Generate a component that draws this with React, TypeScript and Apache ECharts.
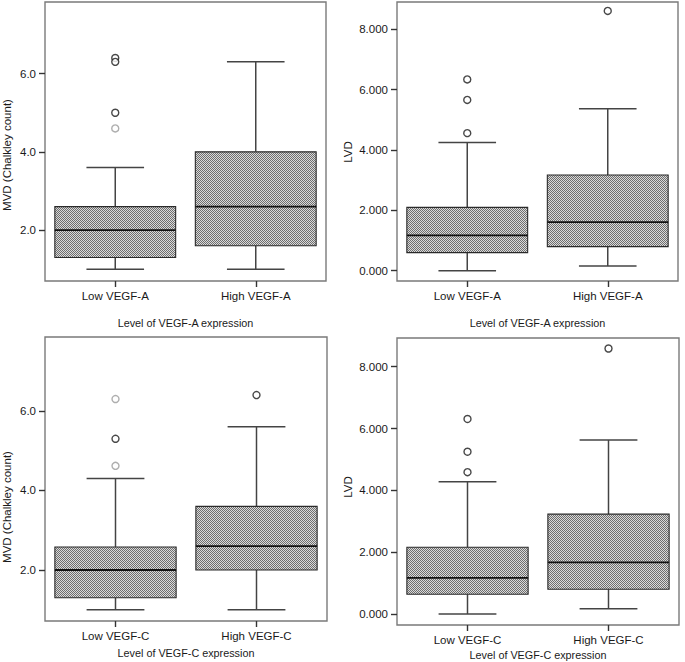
import React, { useEffect, useRef } from 'react';
import * as echarts from 'echarts';

// ---- Data ----
const vegfACategories = ['Low VEGF-A', 'High VEGF-A'];
const vegfCCategories = ['Low VEGF-C', 'High VEGF-C'];

// Each box: [lower whisker, Q1, median, Q3, upper whisker]
const mvdVegfABoxes = [
  [1.0, 1.3, 2.0, 2.6, 3.6],
  [1.0, 1.6, 2.6, 4.0, 6.3],
];
const mvdVegfAOutliers = [[0, 6.4], [0, 6.3], [0, 5.0], [0, 4.6]];
const mvdVegfAOutlierGray = [false, false, false, true];

const lvdVegfABoxes = [
  [0.0, 0.6, 1.17, 2.1, 4.25],
  [0.16, 0.8, 1.61, 3.17, 5.37],
];
const lvdVegfAOutliers = [[0, 6.34], [0, 5.66], [0, 4.56], [1, 8.61]];
const lvdVegfAOutlierGray = [false, false, false, false];

const mvdVegfCBoxes = [
  [1.0, 1.3, 2.0, 2.58, 4.3],
  [1.0, 2.0, 2.6, 3.6, 5.6],
];
const mvdVegfCOutliers = [[0, 6.3], [0, 5.3], [0, 4.62], [1, 6.4]];
const mvdVegfCOutlierGray = [true, false, true, false];

const lvdVegfCBoxes = [
  [0.0, 0.64, 1.17, 2.16, 4.28],
  [0.17, 0.8, 1.67, 3.23, 5.63],
];
const lvdVegfCOutliers = [[0, 6.31], [0, 5.25], [0, 4.59], [1, 8.59]];
const lvdVegfCOutlierGray = [false, false, false, false];

const mvdTicks = [2, 4, 6];
const lvdTicks = [0, 2, 4, 6, 8];

const mvdName = 'MVD (Chalkley count)';
const lvdName = 'LVD';
const vegfATitle = 'Level of VEGF-A expression';
const vegfCTitle = 'Level of VEGF-C expression';

const FONT = '"Liberation Sans", Arial, Helvetica, sans-serif';
const TXT = '#1a1a1a';

export default function App() {
  const ref = useRef<HTMLDivElement>(null);

  useEffect(() => {
    if (!ref.current) return;
    const chart = echarts.init(ref.current, undefined, { renderer: 'svg' });

    // checkered fill pattern
    const cv = document.createElement('canvas');
    cv.width = 2;
    cv.height = 2;
    const ctx = cv.getContext('2d')!;
    ctx.fillStyle = '#dadada';
    ctx.fillRect(0, 0, 2, 2);
    ctx.fillStyle = '#6e6e6e';
    ctx.fillRect(0, 0, 1, 1);
    ctx.fillRect(1, 1, 1, 1);
    const pattern: any = { image: cv, repeat: 'repeat', imageWidth: 2, imageHeight: 2 };

    const panels = [
      {
        grid: { left: 45, top: 2, width: 281, height: 279 },
        cats: vegfACategories, boxes: mvdVegfABoxes, out: mvdVegfAOutliers, gray: mvdVegfAOutlierGray,
        min: 0.7, max: 7.83, ticks: mvdTicks, dec: 1, title: vegfATitle, gap: 36,
      },
      {
        grid: { left: 397, top: 2, width: 281, height: 279 },
        cats: vegfACategories, boxes: lvdVegfABoxes, out: lvdVegfAOutliers, gray: lvdVegfAOutlierGray,
        min: -0.34, max: 8.905, ticks: lvdTicks, dec: 3, title: vegfATitle, gap: 36,
      },
      {
        grid: { left: 45, top: 337, width: 282, height: 284 },
        cats: vegfCCategories, boxes: mvdVegfCBoxes, out: mvdVegfCOutliers, gray: mvdVegfCOutlierGray,
        min: 0.717, max: 7.86, ticks: mvdTicks, dec: 1, title: vegfCTitle, gap: 26,
      },
      {
        grid: { left: 397, top: 338, width: 282, height: 287 },
        cats: vegfCCategories, boxes: lvdVegfCBoxes, out: lvdVegfCOutliers, gray: lvdVegfCOutlierGray,
        min: -0.356, max: 8.93, ticks: lvdTicks, dec: 3, title: vegfCTitle, gap: 24,
      },
    ];

    const renderBox = (params: any, api: any) => {
      const cat = api.value(0);
      const low = api.coord([cat, api.value(1)]);
      const q1 = api.coord([cat, api.value(2)]);
      const med = api.coord([cat, api.value(3)]);
      const q3 = api.coord([cat, api.value(4)]);
      const high = api.coord([cat, api.value(5)]);
      const band = api.size([1, 0])[0];
      const boxW = band * 0.86;
      const capW = band * 0.41;
      const x = low[0];
      const wStyle = { stroke: '#444', lineWidth: 1.5 };
      return {
        type: 'group',
        children: [
          { type: 'line', shape: { x1: x, y1: q3[1], x2: x, y2: high[1] }, style: wStyle },
          { type: 'line', shape: { x1: x, y1: q1[1], x2: x, y2: low[1] }, style: wStyle },
          { type: 'line', shape: { x1: x - capW / 2, y1: high[1], x2: x + capW / 2, y2: high[1] }, style: wStyle },
          { type: 'line', shape: { x1: x - capW / 2, y1: low[1], x2: x + capW / 2, y2: low[1] }, style: wStyle },
          {
            type: 'rect',
            shape: { x: x - boxW / 2, y: q3[1], width: boxW, height: q1[1] - q3[1] },
            style: { fill: pattern, stroke: '#2a2a2a', lineWidth: 1.1 },
          },
          { type: 'line', shape: { x1: x - boxW / 2, y1: med[1], x2: x + boxW / 2, y2: med[1] }, style: { stroke: '#111', lineWidth: 1.8 } },
        ],
      };
    };

    const nameText = (text: string, x: number, y: number) => ({
      type: 'text', x, y, rotation: Math.PI / 2,
      style: { text, font: `11.5px ${FONT}`, fill: TXT, align: 'center', verticalAlign: 'middle' },
    });

    const option: any = {
      animation: false,
      backgroundColor: '#fff',
      textStyle: { fontFamily: FONT },
      grid: panels.map((p) => ({ ...p.grid, show: true, borderColor: '#7a7a7a', borderWidth: 1.4, backgroundColor: 'transparent' })),
      xAxis: panels.map((p, i) => ({
        type: 'category',
        gridIndex: i,
        data: p.cats,
        boundaryGap: true,
        axisLine: { show: false, onZero: false },
        axisTick: { show: true, alignWithLabel: true, length: 6, lineStyle: { color: '#333', width: 1.4 } },
        axisLabel: { margin: 9, fontSize: 11.5, color: TXT, fontFamily: FONT },
        splitLine: { show: false },
        name: p.title,
        nameLocation: 'middle',
        nameGap: p.gap,
        nameTextStyle: { fontSize: 10.8, color: TXT, fontFamily: FONT },
      })),
      yAxis: panels.map((p, i) => ({
        type: 'value',
        gridIndex: i,
        min: p.min,
        max: p.max,
        axisLine: { show: false, onZero: false },
        axisTick: { show: true, length: 6, customValues: p.ticks, lineStyle: { color: '#333', width: 1.4 } },
        axisLabel: {
          margin: 9,
          fontSize: 11.5,
          color: TXT,
          fontFamily: FONT,
          customValues: p.ticks,
          formatter: (v: number) => v.toFixed(p.dec),
        },
        splitLine: { show: false },
      })),
      graphic: [
        nameText(mvdName, 7, 155),
        nameText(lvdName, 348, 152),
        nameText(mvdName, 7, 507),
        nameText(lvdName, 348, 487),
      ],
      series: [
        ...panels.map((p, i) => ({
          type: 'custom',
          xAxisIndex: i,
          yAxisIndex: i,
          renderItem: renderBox,
          encode: { x: 0, y: [1, 2, 3, 4, 5] },
          data: p.boxes.map((b, k) => [k, ...b]),
          z: 2,
        })),
        ...panels.map((p, i) => ({
          type: 'scatter',
          xAxisIndex: i,
          yAxisIndex: i,
          symbol: 'circle',
          symbolSize: 7,
          z: 3,
          data: p.out.map((o, k) => ({
            value: o,
            itemStyle: { color: '#fff', borderColor: p.gray[k] ? '#9a9a9a' : '#1a1a1a', borderWidth: 1.4 },
          })),
        })),
      ],
    };

    chart.setOption(option);
    return () => chart.dispose();
  }, []);

  return (
    <div
      ref={ref}
      style={{ position: 'fixed', left: 0, top: 0, width: 685, height: 662, background: '#fff' }}
    />
  );
}
